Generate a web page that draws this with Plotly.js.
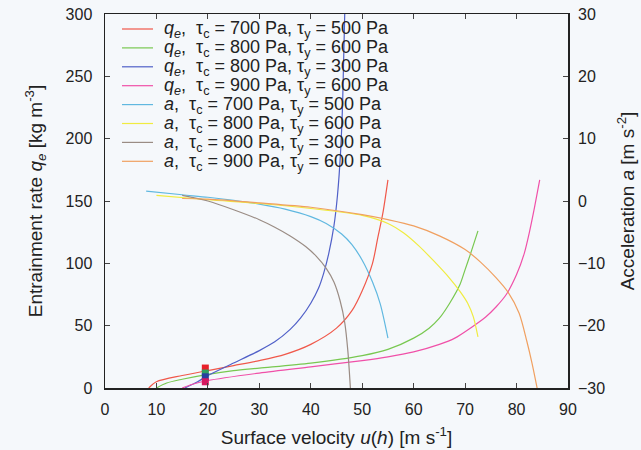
<!DOCTYPE html>
<html>
<head>
<meta charset="utf-8">
<script src="https://cdn.plot.ly/plotly-3.0.1.min.js"></script>
<style>html,body{margin:0;padding:0;background:#f5f8fb;}</style>
</head>
<body>
<div id="chart" style="width:641px;height:450px;"></div>
<script>
// Entrainment rate q_e [kg m^-3] vs surface velocity u(h) [m/s]
const qRed_u   = [8.5, 10, 15, 20, 25, 30, 35, 40, 45, 48, 50, 52, 53, 54, 55];
const qRed_q   = [0, 5, 10, 14, 18, 22, 27, 35, 48, 62, 78, 100, 120, 140, 167];
const qGreen_u = [10, 12, 15, 20, 25, 30, 40, 50, 55, 60, 63, 65, 67, 69, 70, 71, 72.5];
const qGreen_q = [0, 4, 7, 11, 14, 16, 20, 26, 31, 40, 48, 56, 68, 83, 95, 107, 126];
const qBlue_u  = [15.5, 18, 20, 25, 30, 33, 36, 38, 40, 41.5, 42.5, 43.5, 44.5, 45.2, 45.8, 46.2, 46.6];
const qBlue_q  = [0, 5, 10, 20, 30, 37, 47, 56, 68, 80, 92, 108, 130, 155, 190, 230, 300];
const qPink_u  = [15, 17, 20, 30, 40, 50, 55, 60, 65, 68, 71, 74, 76, 78, 80, 81.5, 82.5, 83.5, 84.5];
const qPink_q  = [0, 3, 6, 12, 17, 22, 25, 29, 35, 40, 48, 57, 65, 75, 91, 108, 125, 145, 167];

// Acceleration a [m s^-2] vs surface velocity
const aCyan_u   = [8, 15, 20, 25, 30, 35, 40, 43, 46, 48, 50, 52, 53.5, 55];
const aCyan_a   = [1.6, 1, 0.6, 0.1, -0.5, -1.3, -2.5, -3.6, -5.3, -7, -9.5, -13, -16.5, -22];
const aYellow_u = [10, 20, 30, 40, 50, 55, 58, 61, 64, 67, 69, 70.5, 71.6, 72.5];
const aYellow_a = [0.9, 0.2, -0.4, -1.2, -2.3, -3.6, -5.1, -7.2, -9.7, -12.4, -14.5, -16.4, -18.6, -21.8];
const aGrey_u   = [15, 20, 25, 30, 33, 36, 39, 41, 43, 44.5, 45.7, 46.6, 47.2, 47.7];
const aGrey_a   = [0.9, 0, -1.4, -3, -4.2, -5.6, -7.3, -8.8, -10.8, -13, -16, -19.5, -24, -30];
const aOrange_u = [15, 20, 30, 40, 50, 55, 60, 65, 70, 73, 76, 78.4, 80.5, 82, 83, 84];
const aOrange_a = [0.4, 0.3, -0.3, -1, -2.2, -3, -4, -5.6, -7.8, -9.8, -12.3, -14.7, -18, -22.5, -26, -30];

// markers at u = 19
const mark_u = [19.5, 19.5, 19.5, 19.5];
const mark_q = [16, 12, 9, 5];

const labels = [
  "<i>q<sub>e</sub></i>,  τ<sub>c</sub> = 700 Pa, τ<sub>y</sub> = 500 Pa",
  "<i>q<sub>e</sub></i>,  τ<sub>c</sub> = 800 Pa, τ<sub>y</sub> = 600 Pa",
  "<i>q<sub>e</sub></i>,  τ<sub>c</sub> = 800 Pa, τ<sub>y</sub> = 300 Pa",
  "<i>q<sub>e</sub></i>,  τ<sub>c</sub> = 900 Pa, τ<sub>y</sub> = 600 Pa",
  "<i>a</i>,  τ<sub>c</sub> = 700 Pa, τ<sub>y</sub> = 500 Pa",
  "<i>a</i>,  τ<sub>c</sub> = 800 Pa, τ<sub>y</sub> = 600 Pa",
  "<i>a</i>,  τ<sub>c</sub> = 800 Pa, τ<sub>y</sub> = 300 Pa",
  "<i>a</i>,  τ<sub>c</sub> = 900 Pa, τ<sub>y</sub> = 600 Pa"
];
const colors = ["#f0584a", "#78c850", "#5060c8", "#f050a8", "#60b8e0", "#f0ec40", "#9a8c84", "#f0a060"];

const series = [
  [qRed_u, qRed_q, 'y'], [qGreen_u, qGreen_q, 'y'], [qBlue_u, qBlue_q, 'y'], [qPink_u, qPink_q, 'y'],
  [aCyan_u, aCyan_a, 'y2'], [aYellow_u, aYellow_a, 'y2'], [aGrey_u, aGrey_a, 'y2'], [aOrange_u, aOrange_a, 'y2']
];

const traces = series.map((s, i) => ({
  x: s[0], y: s[1], yaxis: s[2], type: 'scatter', mode: 'lines',
  line: {color: colors[i], width: 1.2, shape: 'spline', smoothing: 0.8},
  name: labels[i], showlegend: false
}));

traces.push({
  x: mark_u, y: mark_q, yaxis: 'y', type: 'scatter', mode: 'markers',
  marker: {symbol: 'square', size: 7, color: ['#e8202a', '#30a060', '#2840a0', '#d81860']},
  showlegend: false
});

// manual legend (paper coordinates of plot area)
const fontFam = '"Liberation Sans", Arial, sans-serif';
const plotL = 105, plotW = 463, plotT = 14, plotH = 374;
const px2x = p => (p - plotL) / plotW;
const py2y = p => (plotT + plotH - p) / plotH;
const annotations = [], shapes = [];
labels.forEach((lab, i) => {
  const yc = 29 + i * 18.9;
  shapes.push({type: 'line', xref: 'paper', yref: 'paper', x0: px2x(122), x1: px2x(153),
               y0: py2y(yc), y1: py2y(yc), line: {color: colors[i], width: 1.2}});
  annotations.push({xref: 'paper', yref: 'paper', x: px2x(162), y: py2y(yc + 1), xanchor: 'left', yanchor: 'middle',
                    text: lab, showarrow: false, font: {size: 18, family: fontFam, color: '#222'}});
});

const layout = {
  width: 641, height: 450,
  margin: {l: plotL, r: 641 - plotL - plotW, t: plotT, b: 450 - plotT - plotH},
  paper_bgcolor: '#f5f8fb', plot_bgcolor: '#f5f8fb',
  font: {family: fontFam, size: 16, color: '#222'},
  showlegend: false,
  annotations: annotations, shapes: shapes,
  xaxis: {range: [0, 90], dtick: 10, ticks: 'inside', ticklen: 5, showgrid: false, zeroline: false,
          showline: true, linecolor: '#222', linewidth: 1.5, mirror: 'ticks', ticklabelstandoff: 6,
          title: {text: 'Surface velocity <i>u</i>(<i>h</i>) [m s<sup>-1</sup>]', standoff: 14}},
  yaxis: {range: [0, 300], dtick: 50, ticks: 'inside', ticklen: 5, showgrid: false, zeroline: false,
          showline: true, linecolor: '#222', linewidth: 1.5, mirror: true, ticklabelstandoff: 8,
          title: {text: 'Entrainment rate <i>q<sub>e</sub></i> [kg m<sup>-3</sup>]', standoff: 18}},
  yaxis2: {range: [-30, 30], dtick: 10, overlaying: 'y', side: 'right', ticks: 'inside', ticklen: 5,
          showgrid: false, zeroline: false, showline: false, ticklabelstandoff: 9,
          title: {text: 'Acceleration <i>a</i> [m s<sup>-2</sup>]', standoff: 16}}
};

Plotly.newPlot('chart', traces, layout, {displayModeBar: false, staticPlot: true});
</script>
</body>
</html>
